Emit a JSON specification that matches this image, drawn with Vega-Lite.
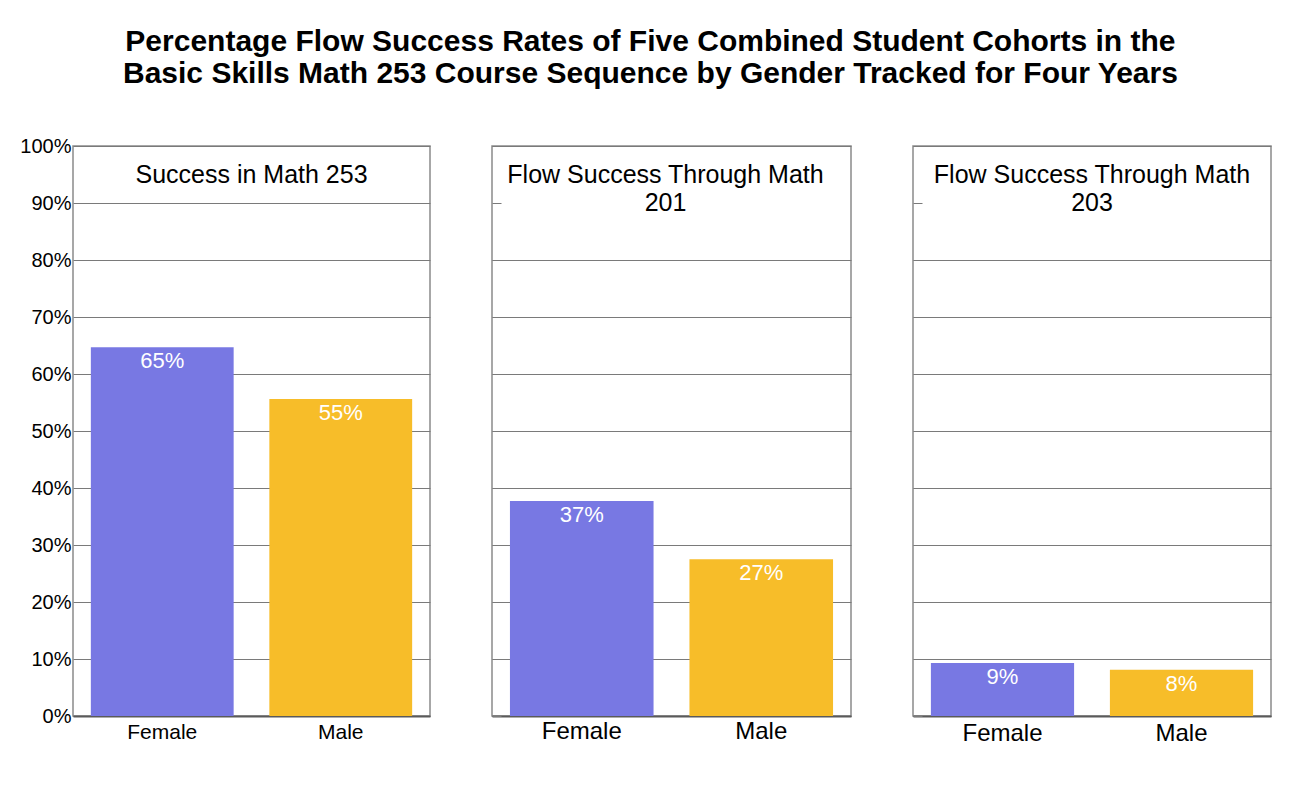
{
  "$schema": "https://vega.github.io/schema/vega-lite/v6.json",
  "description": "Flow success rates by gender, three course steps",
  "background": "white",
  "padding": {"left": 19, "top": 27, "right": 5, "bottom": 5},
  "title": {
    "text": [
      "Percentage Flow Success Rates of Five Combined Student Cohorts in the",
      "Basic Skills Math 253 Course Sequence by Gender Tracked for Four Years"
    ],
    "font": "Liberation Sans",
    "fontSize": 30,
    "fontWeight": "bold",
    "lineHeight": 32,
    "color": "black",
    "anchor": "middle",
    "dx": 5,
    "offset": 46
  },
  "spacing": 59,
  "hconcat": [
    {
      "width": 357,
      "height": 570,
      "layer": [
        {
          "data": {"values": [
            {"gender": "Female", "rate": 64.7, "label": "65%"},
            {"gender": "Male", "rate": 55.6, "label": "55%"}
          ]},
          "encoding": {
            "x": {
              "field": "gender", "type": "nominal",
              "scale": {"paddingInner": 0.2, "paddingOuter": 0.1},
              "axis": {"title": null, "labelAngle": 0, "labelFontSize": 21, "ticks": false, "labelPadding": 5}
            },
            "y": {
              "field": "rate", "type": "quantitative",
              "scale": {"domain": [0, 100]},
              "axis": {
                "title": null, "values": [0, 10, 20, 30, 40, 50, 60, 70, 80, 90, 100],
                "labelExpr": "datum.value + '%'", "labelFontSize": 20, "labelPadding": 2,
                "ticks": false, "domain": false, "grid": true
              }
            }
          },
          "layer": [
            {
              "mark": {"type": "bar"},
              "encoding": {
                "color": {"field": "gender", "type": "nominal", "legend": null,
                  "scale": {"domain": ["Female", "Male"], "range": ["#7878e3", "#f7bd29"]}}
              }
            },
            {
              "mark": {"type": "text", "baseline": "top", "dy": 4, "color": "white", "fontSize": 22},
              "encoding": {"text": {"field": "label"}}
            }
          ]
        },
        {
          "data": {"values": [{"heading": "Success in Math 253"}]},
          "mark": {"type": "text", "baseline": "top", "fontSize": 25, "color": "black"},
          "encoding": {"y": {"datum": 97}, "text": {"field": "heading", "type": "nominal"}}
        }
      ]
    },
    {
      "width": 359,
      "height": 570,
      "layer": [
        {
          "data": {"values": [
            {"gender": "Female", "rate": 37.7, "label": "37%"},
            {"gender": "Male", "rate": 27.5, "label": "27%"}
          ]},
          "encoding": {
            "x": {
              "field": "gender", "type": "nominal",
              "scale": {"paddingInner": 0.2, "paddingOuter": 0.1},
              "axis": {"title": null, "labelAngle": 0, "labelFontSize": 24, "ticks": false, "labelPadding": 3}
            },
            "y": {
              "field": "rate", "type": "quantitative",
              "scale": {"domain": [0, 100]},
              "axis": {
                "title": null, "values": [0, 10, 20, 30, 40, 50, 60, 70, 80, 90, 100],
                "labels": false, "ticks": true, "tickSize": -9, "tickColor": "#7a7a7a", "domain": false, "grid": true,
                "gridOpacity": {"condition": {"test": "datum.value == 90", "value": 0}, "value": 1}
              }
            }
          },
          "layer": [
            {
              "mark": {"type": "bar"},
              "encoding": {
                "color": {"field": "gender", "type": "nominal", "legend": null,
                  "scale": {"domain": ["Female", "Male"], "range": ["#7878e3", "#f7bd29"]}}
              }
            },
            {
              "mark": {"type": "text", "baseline": "top", "dy": 4, "color": "white", "fontSize": 22},
              "encoding": {"text": {"field": "label"}}
            }
          ]
        },
        {
          "data": {"values": [{"heading": "Flow Success Through Math\n201"}]},
          "mark": {"type": "text", "baseline": "top", "fontSize": 25, "lineHeight": 28, "lineBreak": "\n", "color": "black", "dx": -6},
          "encoding": {"y": {"datum": 97}, "text": {"field": "heading", "type": "nominal"}}
        }
      ]
    },
    {
      "width": 358,
      "height": 570,
      "layer": [
        {
          "data": {"values": [
            {"gender": "Female", "rate": 9.3, "label": "9%"},
            {"gender": "Male", "rate": 8.1, "label": "8%"}
          ]},
          "encoding": {
            "x": {
              "field": "gender", "type": "nominal",
              "scale": {"paddingInner": 0.2, "paddingOuter": 0.1},
              "axis": {"title": null, "labelAngle": 0, "labelFontSize": 24, "ticks": false, "labelPadding": 5}
            },
            "y": {
              "field": "rate", "type": "quantitative",
              "scale": {"domain": [0, 100]},
              "axis": {
                "title": null, "values": [0, 10, 20, 30, 40, 50, 60, 70, 80, 90, 100],
                "labels": false, "ticks": true, "tickSize": -9, "tickColor": "#7a7a7a", "domain": false, "grid": true,
                "gridOpacity": {"condition": {"test": "datum.value == 90", "value": 0}, "value": 1}
              }
            }
          },
          "layer": [
            {
              "mark": {"type": "bar"},
              "encoding": {
                "color": {"field": "gender", "type": "nominal", "legend": null,
                  "scale": {"domain": ["Female", "Male"], "range": ["#7878e3", "#f7bd29"]}}
              }
            },
            {
              "mark": {"type": "text", "baseline": "top", "dy": 4, "color": "white", "fontSize": 22},
              "encoding": {"text": {"field": "label"}}
            }
          ]
        },
        {
          "data": {"values": [{"heading": "Flow Success Through Math\n203"}]},
          "mark": {"type": "text", "baseline": "top", "fontSize": 25, "lineHeight": 28, "lineBreak": "\n", "color": "black"},
          "encoding": {"y": {"datum": 97}, "text": {"field": "heading", "type": "nominal"}}
        }
      ]
    }
  ],
  "config": {
    "font": "Liberation Sans",
    "view": {"stroke": "#8a8a8a", "strokeWidth": 1.5},
    "title": {"font": "Liberation Sans", "color": "black"},
    "axis": {
      "labelFont": "Liberation Sans", "labelColor": "black",
      "gridColor": "#7a7a7a", "gridWidth": 1, "gridOpacity": 1,
      "domainColor": "#5a5a5a", "domainWidth": 2
    }
  }
}
